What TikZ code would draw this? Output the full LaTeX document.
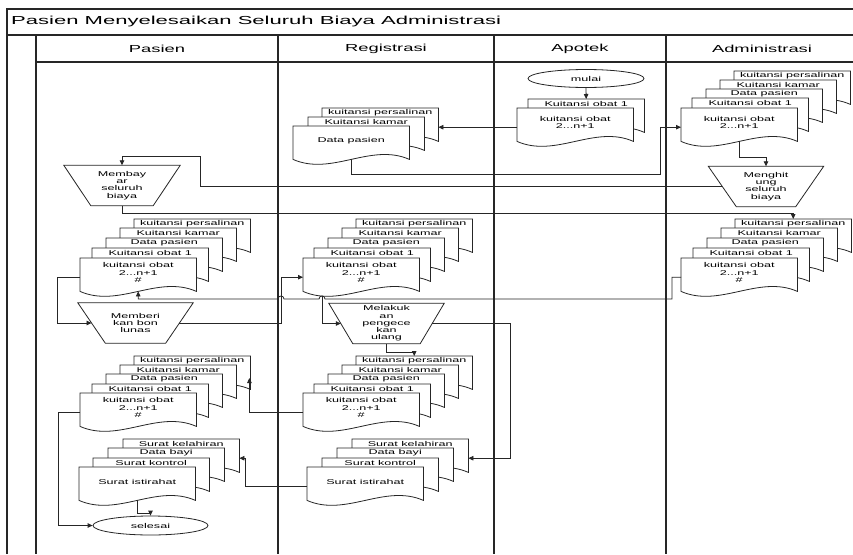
\documentclass[tikz,border=0pt]{standalone}
\usepackage{fontspec}
\setmainfont{Liberation Sans}[FakeStretch=1.8]
\newfontfamily\titlefont{Liberation Sans}[FakeStretch=1.9]
\usetikzlibrary{arrows.meta,calc,shapes.geometric}

\tikzset{
  frame/.style={draw=black!85, line width=1.3pt},
  lane/.style={draw=black!85, line width=1.7pt},
  outline/.style={draw=black!85, line width=0.8pt, fill=white},
  conn/.style={draw=black!85, line width=0.8pt, -{Triangle[length=5pt,width=4.5pt]}},
  sheetbox/.style={rectangle, draw=none, inner sep=0pt, minimum width=116pt, minimum height=38pt, anchor=north west},
  smalltext/.style={font=\fontsize{7}{7.3}\selectfont, inner sep=0pt, align=center, text=black},
  headtext/.style={font=\fontsize{10.2}{12}\selectfont, inner sep=0pt, text=black},
  trapbox/.style={rectangle, draw=none, inner sep=0pt, minimum height=40pt, font=\fontsize{7}{7.3}\selectfont, align=center},
  terminal/.style={ellipse, draw=black!85, line width=0.8pt, fill=white, inner sep=0pt, minimum width=116pt, minimum height=18pt, font=\fontsize{7}{7.3}\selectfont},
}

% one sheet of a document stack: name, left, top, label in the top strip
\newcommand\docsheet[4]{%
  \node[sheetbox] (#1) at (#2,#3) {};
  \path[outline] (#1.north west) -- (#1.north east) -- ($(#1.south east)+(0,-5)$)
    .. controls ($(#1.south east)+(-38.7,-22)$) and ($(#1.south west)+(38.7,12)$)
    .. ($(#1.south west)+(0,-5)$) -- cycle;
  \node[smalltext] (#1-t) at ($(#1.north)+(0,5)$) {#4};}
% front document of a stack: name, left, top, body text
\newcommand\docfront[4]{%
  \node[sheetbox] (#1) at (#2,#3) {};
  \path[outline] (#1.north west) -- (#1.north east) -- ($(#1.south east)+(0,-5)$)
    .. controls ($(#1.south east)+(-38.7,-22)$) and ($(#1.south west)+(38.7,12)$)
    .. ($(#1.south west)+(0,-5)$) -- cycle;
  \node[smalltext] (#1-t) at ($(#1.north)+(0,14.5)$) {#4};}
% manual operation (inverted trapezoid): name, centre, top width, inset, text
\newcommand\trapshape[5]{%
  \node[trapbox, minimum width=#3pt] (#1) at (#2) {#5};
  \draw[draw=black!85, line width=0.8pt] (#1.north west) -- (#1.north east)
    -- ($(#1.south east)+(-#4,0)$) -- ($(#1.south west)+(#4,0)$) -- cycle;}

\begin{document}
\begin{tikzpicture}[x=1pt,y=-1pt]
\useasboundingbox (0,0) rectangle (853,554);
\fill[white] (0,0) rectangle (853,554);

% pool frame and lanes
\draw[frame] (7,554) -- (7,9) -- (856,9);
\draw[frame] (7,35) -- (856,35);
\draw[frame] (36,62) -- (856,62);
\draw[lane] (36,35) -- (36,554);
\draw[lane] (278,35) -- (278,554);
\draw[lane] (494,35) -- (494,554);
\draw[lane] (666,35) -- (666,554);

\node[anchor=west, inner sep=0pt, font=\titlefont\fontsize{11.6}{13}\selectfont] (title) at (11,22) {Pasien Menyelesaikan Seluruh Biaya Administrasi};
\node[headtext] (h-pasien) at (157,49) {Pasien};
\node[headtext] (h-reg) at (386,49) {Registrasi};
\node[headtext] (h-apotek) at (580,49) {Apotek};
\node[headtext] (h-admin) at (762,49) {Administrasi};

% Apotek
\node[terminal] (mulai) at (586,78.5) {mulai};
\docsheet{ap-b}{528}{99}{Kuitansi obat 1}
\docfront{ap-a}{517}{108}{kuitansi obat\\2...n+1}

% Registrasi, first stack
\docsheet{r1-c}{322}{108}{kuitansi persalinan}
\docsheet{r1-b}{308}{117}{Kuitansi kamar}
\docfront{r1-a}{293}{126}{Data pasien}

% Administrasi, first stack
\docsheet{a1-e}{734}{71}{kuitansi persalinan}
\docsheet{a1-d}{720}{80}{Kuitansi kamar}
\docsheet{a1-c}{706}{89}{Data pasien}
\docsheet{a1-b}{692}{98}{Kuitansi obat 1}
\docfront{a1-a}{681}{108}{kuitansi obat\\2...n+1}

\trapshape{mh}{766,186.5}{115}{28}{Menghit\\ung\\seluruh\\biaya}
\trapshape{mb}{122,185.5}{116}{27}{Membay\\ar\\seluruh\\biaya}

% second row of stacks
\docsheet{p2-e}{134}{219}{kuitansi persalinan}
\docsheet{p2-d}{120}{228}{Kuitansi kamar}
\docsheet{p2-c}{106}{238}{Data pasien}
\docsheet{p2-b}{92}{248}{Kuitansi obat 1}
\docfront{p2-a}{80}{258}{kuitansi obat\\2...n+1\\\#}

\docsheet{r2-e}{356}{219}{kuitansi persalinan}
\docsheet{r2-d}{342}{228}{Kuitansi kamar}
\docsheet{r2-c}{328}{238}{Data pasien}
\docsheet{r2-b}{314}{248}{Kuitansi obat 1}
\docfront{r2-a}{303}{258}{kuitansi obat\\2...n+1\\\#}

\docsheet{a2-e}{735}{219}{kuitansi persalinan}
\docsheet{a2-d}{721}{228}{Kuitansi kamar}
\docsheet{a2-c}{707}{238}{Data pasien}
\docsheet{a2-b}{693}{248}{Kuitansi obat 1}
\docfront{a2-a}{681}{258}{kuitansi obat\\2...n+1\\\#}

\trapshape{mk}{135.5,323}{115}{27.5}{Memberi\\kan bon\\lunas}
\trapshape{ml}{386.5,323.5}{115}{24}{Melakuk\\an\\pengece\\kan\\ulang}

% third row of stacks
\docsheet{p3-e}{134}{356}{kuitansi persalinan}
\docsheet{p3-d}{120}{365}{Kuitansi kamar}
\docsheet{p3-c}{106}{374}{Data pasien}
\docsheet{p3-b}{92}{384}{Kuitansi obat 1}
\docfront{p3-a}{80}{393}{kuitansi obat\\2...n+1\\\#}

\docsheet{r3-e}{356}{356}{kuitansi persalinan}
\docsheet{r3-d}{342}{365}{Kuitansi kamar}
\docsheet{r3-c}{328}{374}{Data pasien}
\docsheet{r3-b}{314}{384}{Kuitansi obat 1}
\docfront{r3-a}{303}{393}{kuitansi obat\\2...n+1\\\#}

% letters
\docsheet{ps-d}{123}{439}{Surat kelahiran}
\docsheet{ps-c}{108}{448}{Data bayi}
\docsheet{ps-b}{93}{458}{Surat kontrol}
\docfront{ps-a}{79}{467}{Surat istirahat}

\docsheet{rs-d}{352}{439}{Surat kelahiran}
\docsheet{rs-c}{337}{448}{Data bayi}
\docsheet{rs-b}{322}{458}{Surat kontrol}
\docfront{rs-a}{307}{467}{Surat istirahat}

\node[terminal, minimum width=115pt, minimum height=19pt] (selesai) at (150.5,525.5) {selesai};

\coordinate (p3-in) at ($(p3-e.north east)+(-1,22)$);

% flow
\draw[conn] (mulai.south) -- (ap-b.north);
\draw[conn] (ap-a.west) -- (r1-c.east);
\draw[conn] ($(r1-a.south)+(0,-5)$) |- (660,174) |- (a1-a.west);
\draw[conn] ($(a1-a.south)+(0,-5)$) -- ++(0,16) -| (mh.north);
\draw[conn] ($(mh.west)+(14,0)$) -| (200,156) -| (mb.north);
\draw[conn] (mb.south) -- ++(0,8) -| (a2-e.north);
\draw[conn] (a2-a.west) -- ++(-9,0) |- (325,299)
  .. controls (325,295) and (319,295) .. (319,299) -- (284,299)
  .. controls (284,295) and (278,295) .. (278,299) -| ($(p2-a.south)+(0,-5)$);
\draw[conn] (p2-a.west) -- ++(-23,0) |- ($(mk.west)+(13.75,0)$);
\draw[conn] ($(mk.east)+(-13.75,0)$) -- (281,323) |- (r2-a.west);
\draw[conn] ($(r2-a.south west)+(19,0)$) |- ($(ml.west)+(12,0)$);
\draw[conn] (ml.south) -- ++(0,8.5) -| (r3-e.north);
\draw[conn] ($(ml.east)+(-12,0)$) -- (510,323.5) |- (rs-d.east);
\draw[conn] (r3-a.west) -| (p3-in);
\draw[conn] (rs-a.west) -- ++(-62,0) |- (ps-d.east);
\draw[conn] ($(ps-a.south)+(0,-5)$) -- ++(0,13) -| (selesai.north);
\draw[conn] (p3-a.west) -- ++(-22,0) |- (selesai.west);
\end{tikzpicture}
\end{document}
